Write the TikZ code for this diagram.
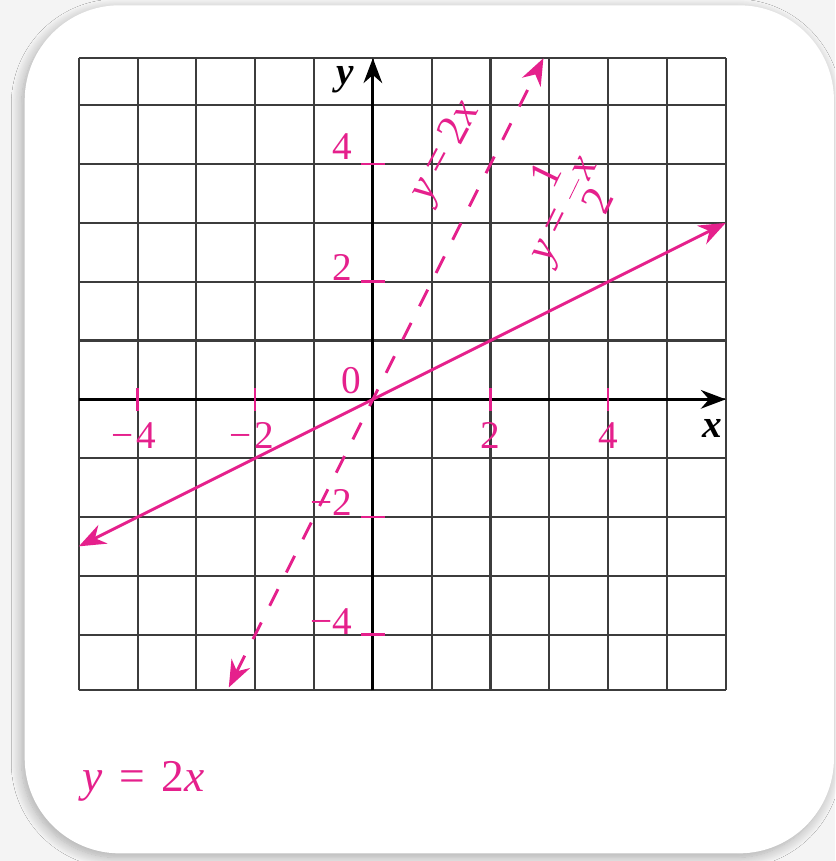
\documentclass[tikz,border=0pt]{standalone}
\usepackage{fontspec}
\setmainfont{Liberation Serif}
\usetikzlibrary{arrows.meta,shadows.blur}
\definecolor{mag}{HTML}{E5208C}
\definecolor{gridc}{HTML}{3C3C3C}
\definecolor{pagebg}{HTML}{F4F4F4}
\begin{document}
\begin{tikzpicture}[
  gridline/.style={gridc,line width=1pt},
  axisline/.style={black,line width=1.5pt,-{Stealth[length=12pt,width=9pt]}},
  graphline/.style={mag,line width=1.4pt,{Stealth[length=13pt,width=10pt]}-{Stealth[length=13pt,width=10pt]}},
  dashline/.style={graphline,dash pattern=on 9pt off 9pt},
  tickmark/.style={mag,line width=1.2pt},
  ticklabel/.style={mag,inner sep=0pt,font=\fontsize{19}{22}\selectfont},
  axislabel/.style={black,inner sep=0pt,font=\fontsize{19}{22}\selectfont\bfseries\itshape},
  eqlabel/.style={mag,inner sep=0pt,font=\fontsize{21}{24}\selectfont},
  frame/.style={fill=white,rounded corners=46pt,blur shadow={shadow xshift=-1.5pt,shadow yshift=-2pt,shadow blur radius=5pt,shadow blur steps=14,shadow opacity=30}}
]
% page and frame
\fill[pagebg] (-6.34,-7.85) rectangle (7.86,6.79);
\useasboundingbox (-6.34,-7.85) rectangle (7.86,6.79);
\path[frame] (-5.92,-7.72) rectangle (7.84,6.70);

% grid
\foreach \x in {-5,...,6} \draw[gridline] (\x,-4.95) -- (\x,5.8);
\foreach \y in {-4,...,5} \draw[gridline] (-5,\y) -- (6,\y);
\draw[gridline] (-5,-4.95) -- (6,-4.95);
\draw[gridline] (-5,5.8) -- (6,5.8);

% axes
\coordinate (xs) at (-5,0);
\coordinate (xe) at (6,0);
\coordinate (ys) at (0,-4.95);
\coordinate (ye) at (0,5.8);
\draw[axisline] (xs) -- (xe);
\draw[axisline] (ys) -- (ye);
\node[axislabel] (xl) at (5.77,-0.49) {x};
\node[axislabel] (yl) at (-0.47,5.44) {y};

% ticks
\foreach \x in {-4,-2,2,4} \draw[tickmark] (\x,-0.2) -- (\x,0.2);
\foreach \y in {-4,-2,2,4} \draw[tickmark] (-0.2,\y) -- (0.2,\y);
\node[ticklabel,anchor=base west] (tx1) at (-4.02,-0.84) {\llap{−\hspace{0.08em}}4};
\node[ticklabel,anchor=base west] (tx2) at (-2.02,-0.84) {\llap{−\hspace{0.08em}}2};
\node[ticklabel,anchor=base] (tx3) at (2,-0.84) {2};
\node[ticklabel,anchor=base] (tx4) at (4,-0.84) {4};
\node[ticklabel,anchor=base east] (ty1) at (-0.35,4.08) {4};
\node[ticklabel,anchor=base east] (ty2) at (-0.35,2.02) {2};
\node[ticklabel,anchor=base east] (ty3) at (-0.35,-1.98) {−2};
\node[ticklabel,anchor=base east] (ty4) at (-0.35,-4.0) {−4};
\node[ticklabel,anchor=base east] (t0) at (-0.19,0.1) {0};

% graphs
\coordinate (a1) at (-5,-2.5);
\coordinate (a2) at (6,3);
\draw[graphline] (a1) -- (a2);
\coordinate (b1) at (-2.45,-4.9);
\coordinate (b2) at (2.9,5.8);
\draw[dashline] (b1) -- (b2);

% equation labels
\node[eqlabel,rotate=62] (l1) at (1.24,4.2) {\textit{y} = 2\textit{x}};
\node[eqlabel,rotate=64] (l2) at (3.2,3.25) {\textit{y} = ${\displaystyle\frac{\mbox{1}}{\mbox{2}}}$\textit{x}};

% caption
\node[mag,anchor=base west,inner sep=0pt,font=\fontsize{22}{26}\selectfont] (cap) at (-4.94,-6.675) {\textit{y}\hspace{0.36em}=\hspace{0.36em}2\textit{x}};
\end{tikzpicture}
\end{document}
